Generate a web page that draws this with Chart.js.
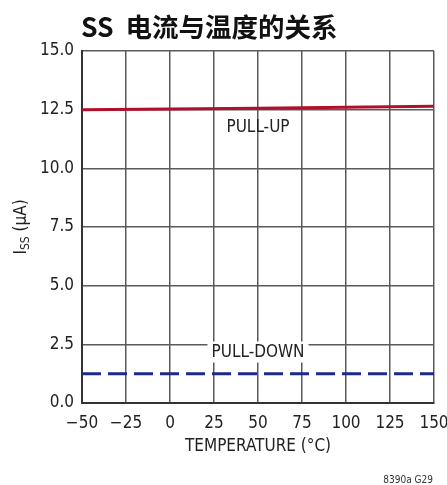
<!DOCTYPE html>
<html>
<head>
<meta charset="utf-8">
<script src="https://cdn.jsdelivr.net/npm/chart.js@4/dist/chart.umd.min.js"></script>
<style>
  html, body { margin: 0; padding: 0; background: #fff; }
  #wrap { width: 447px; height: 485px; position: relative; }
</style>
</head>
<body>
<div id="wrap"><canvas id="c" width="447" height="485"></canvas></div>
<script>
// data
const temps = [-50, 0, 50, 100, 150];
const pullUp = [12.5, 12.53, 12.56, 12.6, 12.65];
const pullDown = [1.25, 1.25, 1.25, 1.25, 1.25];
const xTicks = [-50, -25, 0, 25, 50, 75, 100, 125, 150];
const yTicks = [0, 2.5, 5, 7.5, 10, 12.5, 15];
const seriesNames = ['PULL-UP', 'PULL-DOWN'];

const narrow = '"DejaVu Sans Condensed", "Liberation Sans", Arial, sans-serif';

// text overlays: title, y axis label with subscript, series labels, footnote
const overlay = {
    id: 'overlay',
    afterDraw(chart) {
        const ctx = chart.ctx;
        const x = chart.scales.x, y = chart.scales.y;
        ctx.save();
        ctx.fillStyle = '#111';
        ctx.textBaseline = 'middle';
        ctx.textAlign = 'left';
        ctx.font = 'bold 26.5px "Noto Sans CJK SC", sans-serif';
        ctx.fillText('SS  电流与温度的关系', 81, 27);

        // series labels
        ctx.font = '17px ' + narrow;
        ctx.textAlign = 'center';
        ctx.fillStyle = '#222';
        ctx.fillText(seriesNames[0], x.getPixelForValue(50), y.getPixelForValue(11.75));
        const px = x.getPixelForValue(50), py = y.getPixelForValue(2.15);
        const w = ctx.measureText(seriesNames[1]).width;
        ctx.fillStyle = '#fff';
        ctx.fillRect(px - w / 2 - 4, py - 11, w + 8, 21);
        ctx.fillStyle = '#222';
        ctx.fillText(seriesNames[1], px, py);

        // y axis title, rotated
        ctx.translate(22, (chart.chartArea.top + chart.chartArea.bottom) / 2);
        ctx.rotate(-Math.PI / 2);
        ctx.textAlign = 'left';
        const parts = [['I', 0, 17], ['SS', 4, 12], [' (µA)', 0, 17]];
        let total = 0;
        parts.forEach(p => { ctx.font = p[2] + 'px ' + narrow; total += ctx.measureText(p[0]).width; });
        let cx = -total / 2;
        parts.forEach(p => {
            ctx.font = p[2] + 'px ' + narrow;
            ctx.fillText(p[0], cx, p[1]);
            cx += ctx.measureText(p[0]).width;
        });
        ctx.restore();

        ctx.save();
        ctx.font = '10px ' + narrow;
        ctx.fillStyle = '#333';
        ctx.textAlign = 'right';
        ctx.textBaseline = 'middle';
        ctx.fillText('8390a G29', 433, 480);
        ctx.restore();
    }
};

new Chart(document.getElementById('c'), {
    type: 'line',
    data: {
        labels: temps,
        datasets: [
            {
                label: seriesNames[0],
                data: temps.map((t, i) => ({ x: t, y: pullUp[i] })),
                borderColor: '#b0102c',
                borderWidth: 3,
                pointRadius: 0,
                tension: 0,
            },
            {
                label: seriesNames[1],
                data: temps.map((t, i) => ({ x: t, y: pullDown[i] })),
                borderColor: '#1c2a8c',
                borderWidth: 3,
                borderDash: [19, 7],
                pointRadius: 0,
            },
        ],
    },
    options: {
        responsive: false,
        animation: false,
        layout: { padding: { top: 51, right: 13, left: 0, bottom: 24 } },
        plugins: {
            legend: { display: false },
            tooltip: { enabled: false },
        },
        scales: {
            x: {
                type: 'linear',
                min: -50,
                max: 150,
                afterBuildTicks: (s) => { s.ticks = xTicks.map(v => ({ value: v })); },
                afterFit: (s) => { s.height = 58; s.paddingLeft = 0; s.paddingRight = 0; },
                grid: { color: '#5a5a5a', lineWidth: 1.5, drawTicks: false },
                border: { color: '#333', width: 2 },
                ticks: {
                    color: '#222',
                    padding: 10,
                    maxRotation: 0,
                    autoSkip: false,
                    font: { family: narrow, size: 17 },
                    callback: (v) => (v < 0 ? '\u2212' + Math.abs(v) : String(v)),
                },
                title: {
                    display: true,
                    text: 'TEMPERATURE (°C)',
                    color: '#222',
                    font: { family: narrow, size: 17 },
                    padding: { top: 2 },
                },
            },
            y: {
                min: 0,
                max: 15,
                afterBuildTicks: (s) => { s.ticks = yTicks.map(v => ({ value: v })); },
                afterFit: (s) => { s.width = 82; s.paddingTop = 0; s.paddingBottom = 0; },
                grid: { color: '#5a5a5a', lineWidth: 1.5, drawTicks: false },
                border: { color: '#333', width: 2 },
                ticks: {
                    color: '#222',
                    padding: 8,
                    font: { family: narrow, size: 17 },
                    callback: (v) => v.toFixed(1),
                },
            },
        },
    },
    plugins: [overlay],
});
</script>
</body>
</html>
